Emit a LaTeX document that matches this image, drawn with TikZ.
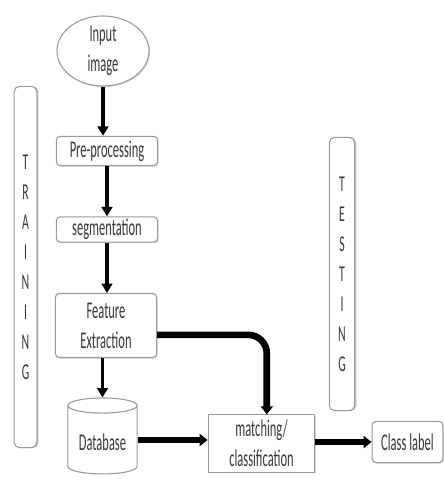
\documentclass[tikz,border=0pt]{standalone}
\usepackage{fontspec}
\setmainfont{Carlito}[FakeStretch=0.52]
\usepackage{tikz}
\usetikzlibrary{shapes.geometric, arrows.meta, positioning, shadows}
\definecolor{edge}{HTML}{9A9A9A}
\definecolor{ink}{HTML}{3A3A3A}
\definecolor{shade}{HTML}{BDBDBD}

\begin{document}
\begin{tikzpicture}[
    x=0.75pt, y=0.75pt,
    font=\fontsize{18}{22.5}\selectfont, text=ink,
    box/.style={
      rectangle, rounded corners=3pt,
      draw=edge, line width=0.8pt, fill=white,
      drop shadow={shadow xshift=0.8pt, shadow yshift=-0.8pt, fill=shade, opacity=0.6},
      align=center, inner sep=1pt
    },
    plain/.style={
      rectangle, draw=edge, line width=0.8pt, fill=white,
      drop shadow={shadow xshift=0.8pt, shadow yshift=-0.8pt, fill=shade, opacity=0.6},
      align=center, inner sep=1pt
    },
    oval/.style={
      ellipse, draw=edge, line width=0.8pt, fill=white,
      drop shadow={shadow xshift=0.8pt, shadow yshift=-0.8pt, fill=shade, opacity=0.6},
      align=center, inner sep=0pt
    },
    store/.style={
      cylinder, shape border rotate=90, aspect=0.32,
      draw=edge, line width=0.8pt, fill=white,
      align=center, inner sep=0pt
    },
    phase/.style={
      rectangle, rounded corners=4pt,
      draw=edge, line width=0.8pt, fill=white,
      drop shadow={shadow xshift=1.2pt, shadow yshift=-0.3pt, fill=shade, opacity=0.9},
      align=center, inner sep=0pt,
      font=\fontsize{17}{22.5}\selectfont
    },
    arrow/.style={-{Triangle[length=7pt, width=8pt]}, line width=2.6pt, draw=black},
    bigarrow/.style={-{Triangle[length=6pt, width=9pt]}, line width=5pt, draw=black}
  ]

    \useasboundingbox (0,0) rectangle (444,480);

    % ── Phase bars ───────────────────────────────────────────────────────
    \node[phase, minimum width=17pt, minimum height=271pt] (train_bar) at (25.5, 213)
      {T\\R\\A\\I\\N\\I\\N\\G};
    \node[phase, minimum width=19pt, minimum height=205pt] (test_bar) at (342, 206)
      {T\\E\\S\\T\\I\\N\\G};

    % ── Training chain ───────────────────────────────────────────────────
    \node[oval, minimum width=69pt, minimum height=46pt] (input) at (103, 429) {Input\\image};
    \node[box, minimum width=76pt, minimum height=22pt] (pre)  at (107, 329) {Pre-processing};
    \node[box, minimum width=76pt, minimum height=19pt] (seg)  at (107, 250.5) {segmentation};
    \node[box, minimum width=76pt, minimum height=48pt] (feat) at (106, 154.5) {Feature\\Extraction};
    \node[store, minimum width=52pt, minimum height=57pt] (db) at (102.5, 40) {\\[-6pt]Database};

    % ── Testing side ─────────────────────────────────────────────────────
    \node[plain, minimum width=80pt, minimum height=43pt] (match) at (261.5, 36.5) {matching/\\classification};
    \node[box, minimum width=53pt, minimum height=31pt] (cls) at (407.5, 38) {Class label};

    % ── Arrows: training chain ───────────────────────────────────────────
    \draw[arrow] (input) -- (input |- pre.north);
    \draw[arrow] (pre)   -- (pre |- seg.north);
    \draw[arrow] (seg)   -- (seg |- feat.north);
    \draw[arrow] (feat.south -| db) -- (db.top);

    % ── Arrows: into matching ────────────────────────────────────────────
    \draw[bigarrow, rounded corners=14pt] ([yshift=-7pt]feat.east) -| ([xshift=4pt]match.north);
    \draw[bigarrow] (db.east) -- (db.east -| match.west);
    \draw[bigarrow] (match.east |- cls.west) -- (cls.west);

  \end{tikzpicture}
\end{document}
